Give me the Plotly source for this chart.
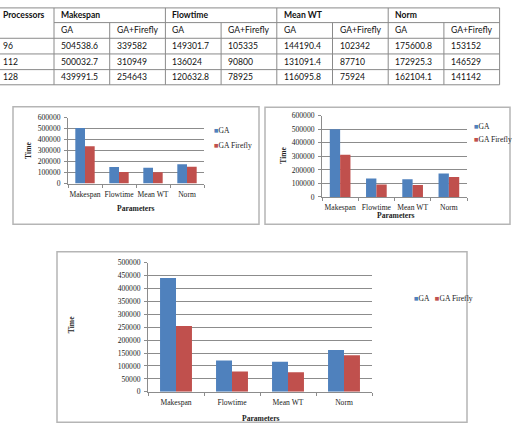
import plotly.graph_objects as go

W, H = 513, 435

# ---------------- data ----------------
processors = ["96", "112", "128"]
metrics = ["Makespan", "Flowtime", "Mean WT", "Norm"]
table_methods = ["GA", "GA+Firefly"]
legend_names = ["GA", "GA Firefly"]

ga_makespan = [504538.6, 500032.7, 439991.5]
ff_makespan = [339582, 310949, 254643]
ga_flowtime = [149301.7, 136024, 120632.8]
ff_flowtime = [105335, 90800, 78925]
ga_meanwt = [144190.4, 131091.4, 116095.8]
ff_meanwt = [102342, 87710, 75924]
ga_norm = [175600.8, 172925.3, 162104.1]
ff_norm = [153152, 146529, 141142]

y_axis_title = "Time"
x_axis_title = "Parameters"

# ---------------- style ----------------
BLUE = "#4F81BD"
RED = "#C0504D"
GRID = "#8c8c8c"
BOX = "#b5b5b5"
TXT = "#222222"
SERIF = "Liberation Serif"
TABLE_FONT = "Lato"
FS = 7.6


def px(x):
    return x / W


def py(y):
    return 1 - y / H


ga_series = [ga_makespan, ga_flowtime, ga_meanwt, ga_norm]
ff_series = [ff_makespan, ff_flowtime, ff_meanwt, ff_norm]

shapes = []
annotations = []

# ---------------- table ----------------
col_x = [54 + 55.7 * i for i in range(9)]
row_y = [4, 19, 35, 51, 67, 82.5]
tline = dict(color="#8a8a8a", width=1)

shapes.append(dict(type="line", xref="paper", yref="paper", x0=px(-2), x1=px(col_x[-1]),
                   y0=py(row_y[0]), y1=py(row_y[0]), line=tline))
shapes.append(dict(type="line", xref="paper", yref="paper", x0=px(col_x[0]), x1=px(col_x[-1]),
                   y0=py(row_y[1]), y1=py(row_y[1]), line=tline))
for r in row_y[2:]:
    shapes.append(dict(type="line", xref="paper", yref="paper", x0=px(-2), x1=px(col_x[-1]),
                       y0=py(r), y1=py(r), line=tline))
for i, cx in enumerate(col_x):
    top = row_y[0] if i % 2 == 0 else row_y[1]
    shapes.append(dict(type="line", xref="paper", yref="paper", x0=px(cx), x1=px(cx),
                       y0=py(top), y1=py(row_y[-1]), line=tline))

PAD = 5


def cell_text(text, x_left, y_top, y_bot, bold=False):
    annotations.append(dict(
        text=f"<b>{text}</b>" if bold else text,
        xref="paper", yref="paper", x=px(x_left + PAD), y=py((y_top + y_bot) / 2),
        xanchor="left", yanchor="middle", showarrow=False,
        font=dict(family=TABLE_FONT, size=8.6, color="#111111")))


cell_text("Processors", -4, row_y[0], row_y[1], bold=True)
for m, name in enumerate(metrics):
    cell_text(name, col_x[2 * m], row_y[0], row_y[1], bold=True)
    for k, meth in enumerate(table_methods):
        cell_text(meth, col_x[2 * m + k], row_y[1], row_y[2])
for p, proc in enumerate(processors):
    cell_text(proc, -4, row_y[2 + p], row_y[3 + p])
    for m in range(len(metrics)):
        cell_text(str(ga_series[m][p]), col_x[2 * m], row_y[2 + p], row_y[3 + p])
        cell_text(str(ff_series[m][p]), col_x[2 * m + 1], row_y[2 + p], row_y[3 + p])

# ---------------- charts ----------------
charts = [
    dict(box=(13, 105, 259, 225), plot=(68, 116, 204, 183.3), yr=600000, dt=100000,
         ytitle=(29, 150), xtitle=(136, 209), legend="stack", leg=(212, 129, 145)),
    dict(box=(265, 105.5, 510, 225), plot=(322, 114, 467, 197), yr=600000, dt=100000,
         ytitle=(284, 155), xtitle=(396, 216), legend="stack", leg=(472, 125, 138)),
    dict(box=(57, 253, 467, 427), plot=(148, 264, 372, 396), yr=500000, dt=50000,
         ytitle=(71, 328), xtitle=(261, 423), legend="row", leg=(412, 301, 301)),
]

fig = go.Figure()
layout_axes = {}
for c, ch in enumerate(charts):
    sfx = "" if c == 0 else str(c + 1)
    xa, ya = "x" + sfx, "y" + sfx
    x0, y0, x1, y1 = ch["box"]
    shapes.append(dict(type="rect", xref="paper", yref="paper", x0=px(x0), x1=px(x1),
                       y0=py(y0), y1=py(y1), line=dict(color=BOX, width=1.5),
                       fillcolor="rgba(0,0,0,0)", layer="below"))
    ga_vals = [s[c] for s in ga_series]
    ff_vals = [s[c] for s in ff_series]
    fig.add_trace(go.Bar(x=metrics, y=ga_vals, name=legend_names[0], marker_color=BLUE,
                         marker_line_width=0, xaxis=xa, yaxis=ya, showlegend=False))
    fig.add_trace(go.Bar(x=metrics, y=ff_vals, name=legend_names[1], marker_color=RED,
                         marker_line_width=0, xaxis=xa, yaxis=ya, showlegend=False))
    l, t, r, b = ch["plot"]
    tickfont = dict(family=SERIF, size=FS, color=TXT)
    layout_axes["xaxis" + sfx] = dict(
        domain=[px(l), px(r)], anchor=ya, type="category", showline=True, linecolor=GRID,
        linewidth=1, ticks="outside", tickson="boundaries", ticklen=3, tickcolor=GRID,
        showgrid=False, tickfont=tickfont, tickangle=0, ticklabelstandoff=3,
        fixedrange=True)
    layout_axes["yaxis" + sfx] = dict(
        domain=[py(b), py(t)], anchor=xa, range=[0, ch["yr"]], dtick=ch["dt"],
        showline=True, linecolor=GRID, linewidth=1, ticks="outside", ticklen=3,
        tickcolor=GRID, showgrid=True, gridcolor=GRID, gridwidth=1, zeroline=False,
        tickfont=tickfont, tickformat="d", ticklabelstandoff=2, fixedrange=True)
    tx, ty = ch["ytitle"]
    annotations.append(dict(text=f"<b>{y_axis_title}</b>", xref="paper", yref="paper",
                            x=px(tx), y=py(ty), textangle=-90, showarrow=False,
                            xanchor="center", yanchor="middle",
                            font=dict(family=SERIF, size=FS, color=TXT)))
    tx, ty = ch["xtitle"]
    annotations.append(dict(text=f"<b>{x_axis_title}</b>", xref="paper", yref="paper",
                            x=px(tx), y=py(ty), showarrow=False,
                            xanchor="center", yanchor="middle",
                            font=dict(family=SERIF, size=FS, color=TXT)))
    lx, ly1, ly2 = ch["leg"]
    if ch["legend"] == "stack":
        for name, col, yy in [(legend_names[0], BLUE, ly1), (legend_names[1], RED, ly2)]:
            annotations.append(dict(
                text=f"<span style='color:{col}'>■</span>{name}", xref="paper", yref="paper",
                x=px(lx), y=py(yy), xanchor="left", yanchor="middle", showarrow=False,
                font=dict(family=SERIF, size=FS, color=TXT)))
    else:
        annotations.append(dict(
            text=(f"<span style='color:{BLUE}'>■</span>{legend_names[0]}   "
                  f"<span style='color:{RED}'>■</span>{legend_names[1]}"),
            xref="paper", yref="paper", x=px(lx), y=py(ly1), xanchor="left",
            yanchor="middle", showarrow=False, font=dict(family=SERIF, size=FS, color=TXT)))

fig.update_layout(
    width=W, height=H, margin=dict(l=0, r=0, t=0, b=0),
    paper_bgcolor="white", plot_bgcolor="rgba(0,0,0,0)",
    barmode="group", bargap=0.43, bargroupgap=0,
    shapes=shapes, annotations=annotations, showlegend=False,
    **layout_axes)

fig.write_html("out.html")
